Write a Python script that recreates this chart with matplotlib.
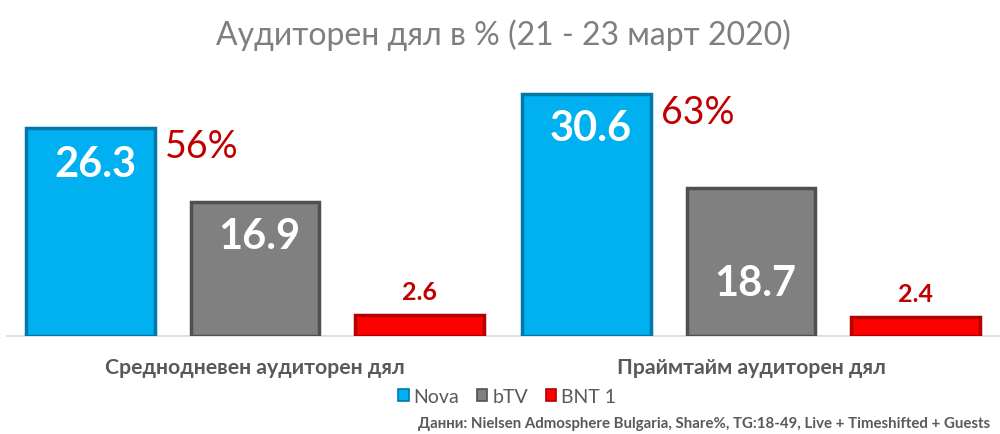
import matplotlib
matplotlib.use('Agg')
import matplotlib.pyplot as plt
import numpy as np
from matplotlib.patches import Rectangle

plt.rcParams['font.family'] = ['Lato', 'Open Sans', 'DejaVu Sans']

# Data
categories = ['Среднодневен аудиторен дял', 'Праймтайм аудиторен дял']
channels = ['Nova', 'bTV', 'BNT 1']
nova = [26.3, 30.6]
btv = [16.9, 18.7]
bnt = [2.6, 2.4]
nova_share = ['56%', '63%']
title = 'Аудиторен дял в % (21 - 23 март 2020)'
source = 'Данни: Nielsen Admosphere Bulgaria, Share%, TG:18-49, Live + Timeshifted + Guests'

colors = ['#00B0F0', '#808080', '#FF0000']
edges = ['#0078A8', '#505050', '#B00000']
dark_red = '#C00000'
text_gray = '#595959'

fig = plt.figure(figsize=(10, 4.35), dpi=100)
ax = fig.add_axes([0.007, 0.2253, 0.992, 0.5908])

x = np.arange(len(categories))
width = 0.26
offset = 0.331
series = [nova, btv, bnt]

for i, (vals, c, ec) in enumerate(zip(series, colors, edges)):
    ax.bar(x + (i - 1) * offset, vals, width, color=c, edgecolor=ec,
           linewidth=2.5, zorder=3)

# value labels: Nova and bTV inside, BNT above
# label offsets below the bar top, in points
inner_off = {(0, 0): -26, (0, 1): -24.5, (1, 0): -24.5, (1, 1): -68}
for j in range(len(categories)):
    for i in range(2):
        v = series[i][j]
        ax.annotate(f'{v:.1f}', (x[j] + (i - 1) * offset, v),
                    xytext=(3, inner_off[(j, i)]), textcoords='offset points',
                    ha='center', va='center', color='white',
                    fontsize=30, fontweight='bold', zorder=5)
    ax.annotate(f'{bnt[j]:.1f}', (x[j] + offset, bnt[j]),
                xytext=(0, 17), textcoords='offset points',
                ha='center', va='center', color=dark_red,
                fontsize=18, fontweight='bold', zorder=5)
    # Nova share percentage
    ax.annotate(nova_share[j], (x[j] - offset + width / 2, nova[j]),
                xytext=(7, -13), textcoords='offset points',
                ha='left', va='center', color=dark_red, fontsize=27, zorder=5)

ax.set_xlim(-0.5, 1.5)
ax.set_ylim(0, 32.5)
ax.set_xticks([])
ax.set_yticks([])
for s in ['top', 'right', 'left']:
    ax.spines[s].set_visible(False)
ax.spines['bottom'].set_color('#D9D9D9')
ax.spines['bottom'].set_linewidth(1.2)

# category labels
for j, cat in enumerate(categories):
    ax.annotate(cat, (x[j], 0), xytext=(0, -22), textcoords='offset points',
                ha='center', va='center', color=text_gray,
                fontsize=15.3, fontweight='bold')

fig.text(0.503, 0.92, title, ha='center', va='center', color='#7F7F7F',
         fontsize=23)

# legend
handles = [Rectangle((0, 0), 1, 1, facecolor=c, edgecolor=ec, linewidth=1.2)
           for c, ec in zip(colors, edges)]
fig.legend(handles, channels, loc='center', bbox_to_anchor=(0.507, 0.087),
           ncol=3, frameon=False, fontsize=14, handlelength=0.55,
           handleheight=0.55, handletextpad=0.25, columnspacing=0.9,
           labelcolor=text_gray)

fig.text(0.99, 0.025, source, ha='right', va='center', color=text_gray,
         fontsize=10.8, fontweight='bold')

fig.savefig('out.png', dpi=100)
